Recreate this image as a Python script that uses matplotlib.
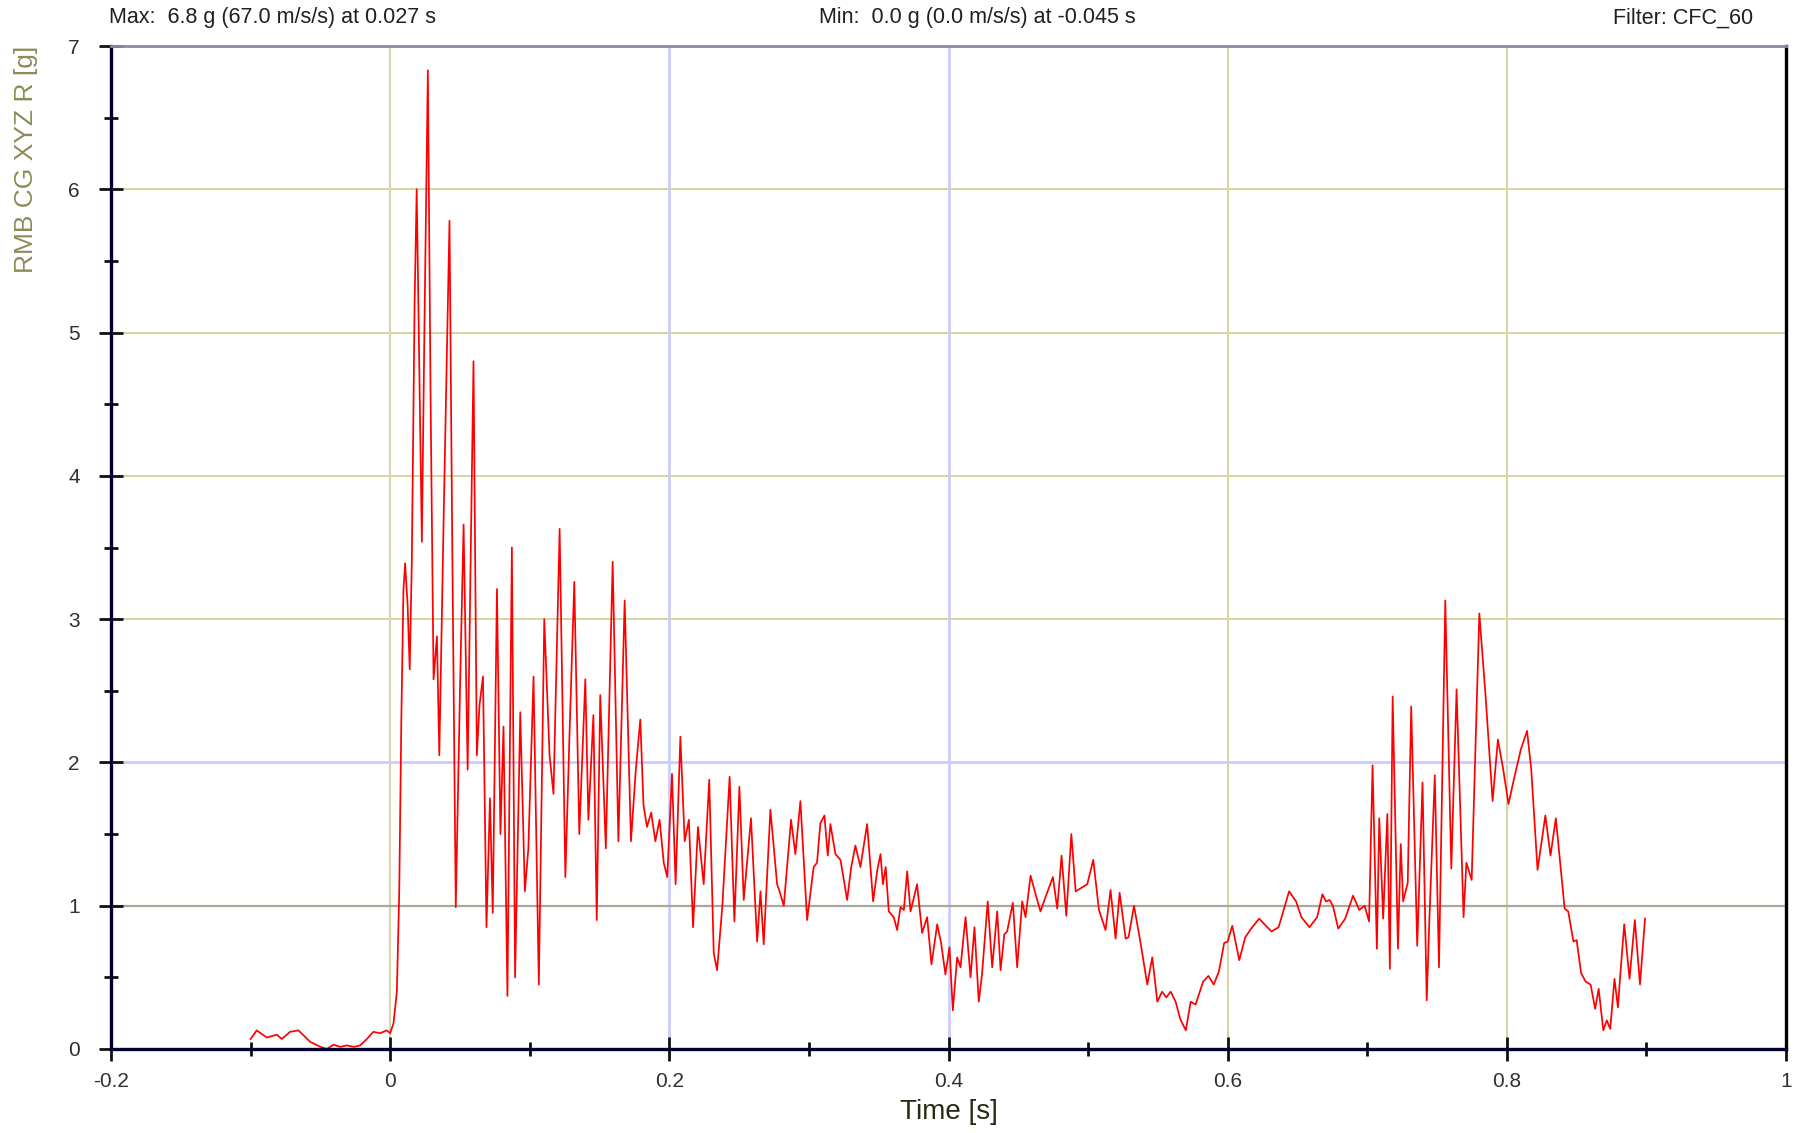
import matplotlib
matplotlib.use("Agg")
import matplotlib.pyplot as plt

plt.rcParams['font.family'] = ['Liberation Sans', 'DejaVu Sans']

# ---------------- data ----------------
time_s = [
    -0.1000, -0.0956, -0.0884, -0.0812, -0.0776, -0.0717, -0.0657, -0.0573, -0.0502, -0.0454,
    -0.0406, -0.0358, -0.0310, -0.0260, -0.0215, -0.0167, -0.0120, -0.0072, -0.0024, 0.0000,
    0.0024, 0.0048, 0.0065, 0.0080, 0.0095, 0.0107, 0.0125, 0.0140, 0.0155, 0.0175,
    0.0190, 0.0205, 0.0227, 0.0245, 0.0270, 0.0290, 0.0311, 0.0335, 0.0352, 0.0385,
    0.0425, 0.0445, 0.0470, 0.0500, 0.0526, 0.0555, 0.0597, 0.0621, 0.0640, 0.0665,
    0.0690, 0.0715, 0.0735, 0.0765, 0.0790, 0.0812, 0.0840, 0.0872, 0.0895, 0.0932,
    0.0965, 0.0990, 0.1027, 0.1065, 0.1104, 0.1142, 0.1170, 0.1214, 0.1255, 0.1285,
    0.1319, 0.1355, 0.1398, 0.1420, 0.1456, 0.1480, 0.1505, 0.1545, 0.1594, 0.1635,
    0.1680, 0.1725, 0.1760, 0.1792, 0.1815, 0.1840, 0.1870, 0.1900, 0.1930, 0.1960,
    0.1985, 0.2019, 0.2045, 0.2079, 0.2110, 0.2140, 0.2170, 0.2205, 0.2246, 0.2286,
    0.2318, 0.2342, 0.2380, 0.2432, 0.2466, 0.2502, 0.2533, 0.2585, 0.2629, 0.2653,
    0.2676, 0.2724, 0.2772, 0.2790, 0.2820, 0.2872, 0.2903, 0.2939, 0.2987, 0.3034,
    0.3058, 0.3082, 0.3111, 0.3135, 0.3154, 0.3190, 0.3226, 0.3274, 0.3303, 0.3333,
    0.3369, 0.3417, 0.3460, 0.3490, 0.3513, 0.3530, 0.3550, 0.3572, 0.3608, 0.3632,
    0.3656, 0.3680, 0.3704, 0.3728, 0.3775, 0.3811, 0.3847, 0.3878, 0.3919, 0.3947,
    0.3978, 0.4007, 0.4031, 0.4062, 0.4086, 0.4122, 0.4158, 0.4186, 0.4217, 0.4240,
    0.4281, 0.4313, 0.4349, 0.4373, 0.4400, 0.4420, 0.4461, 0.4492, 0.4528, 0.4552,
    0.4588, 0.4624, 0.4659, 0.4695, 0.4748, 0.4779, 0.4810, 0.4844, 0.4880, 0.4911,
    0.4994, 0.5037, 0.5078, 0.5125, 0.5161, 0.5197, 0.5226, 0.5269, 0.5290, 0.5329,
    0.5376, 0.5424, 0.5460, 0.5496, 0.5530, 0.5560, 0.5592, 0.5627, 0.5660, 0.5700,
    0.5735, 0.5770, 0.5824, 0.5862, 0.5900, 0.5937, 0.5975, 0.6000, 0.6033, 0.6083,
    0.6126, 0.6176, 0.6226, 0.6264, 0.6314, 0.6365, 0.6440, 0.6490, 0.6528, 0.6586,
    0.6641, 0.6679, 0.6704, 0.6730, 0.6754, 0.6792, 0.6842, 0.6898, 0.6943, 0.6981,
    0.7013, 0.7038, 0.7069, 0.7086, 0.7114, 0.7144, 0.7162, 0.7182, 0.7220, 0.7240,
    0.7257, 0.7290, 0.7315, 0.7358, 0.7396, 0.7426, 0.7446, 0.7484, 0.7514, 0.7559,
    0.7602, 0.7640, 0.7690, 0.7710, 0.7748, 0.7803, 0.7848, 0.7898, 0.7936, 0.7974,
    0.8012, 0.8050, 0.8100, 0.8145, 0.8175, 0.8220, 0.8276, 0.8313, 0.8351, 0.8414,
    0.8440, 0.8477, 0.8500, 0.8532, 0.8565, 0.8600, 0.8633, 0.8658, 0.8691, 0.8716,
    0.8741, 0.8771, 0.8796, 0.8809, 0.8841, 0.8879, 0.8917, 0.8954, 0.8990,
]
accel_g = [
    0.07, 0.13, 0.08, 0.10, 0.07, 0.12, 0.13, 0.05, 0.016, 0.00,
    0.03, 0.015, 0.025, 0.015, 0.025, 0.07, 0.12, 0.11, 0.13, 0.11,
    0.18, 0.40, 1.10, 2.30, 3.20, 3.39, 3.10, 2.65, 3.40, 5.20,
    6.00, 5.00, 3.54, 5.00, 6.83, 4.50, 2.58, 2.88, 2.05, 3.80,
    5.78, 3.50, 0.99, 2.50, 3.66, 1.95, 4.80, 2.05, 2.40, 2.60,
    0.85, 1.75, 0.95, 3.21, 1.50, 2.25, 0.37, 3.50, 0.50, 2.35,
    1.10, 1.40, 2.60, 0.45, 3.00, 2.05, 1.78, 3.63, 1.20, 2.20,
    3.26, 1.50, 2.58, 1.60, 2.33, 0.90, 2.47, 1.40, 3.40, 1.45,
    3.13, 1.45, 1.95, 2.30, 1.70, 1.55, 1.65, 1.45, 1.60, 1.30,
    1.20, 1.92, 1.15, 2.18, 1.45, 1.60, 0.85, 1.55, 1.15, 1.88,
    0.67, 0.55, 1.00, 1.90, 0.89, 1.83, 1.04, 1.61, 0.75, 1.10,
    0.73, 1.67, 1.15, 1.10, 1.00, 1.60, 1.36, 1.73, 0.90, 1.27,
    1.30, 1.575, 1.63, 1.35, 1.57, 1.36, 1.32, 1.04, 1.27, 1.42,
    1.27, 1.57, 1.03, 1.25, 1.36, 1.15, 1.27, 0.96, 0.92, 0.83,
    0.99, 0.97, 1.24, 0.96, 1.15, 0.81, 0.92, 0.59, 0.87, 0.74,
    0.52, 0.71, 0.27, 0.64, 0.57, 0.92, 0.50, 0.85, 0.33, 0.52,
    1.03, 0.57, 0.96, 0.55, 0.80, 0.82, 1.02, 0.57, 1.03, 0.92,
    1.21, 1.08, 0.96, 1.06, 1.20, 0.98, 1.35, 0.93, 1.50, 1.10,
    1.15, 1.32, 0.97, 0.83, 1.11, 0.77, 1.09, 0.77, 0.78, 1.00,
    0.74, 0.45, 0.64, 0.33, 0.40, 0.36, 0.40, 0.33, 0.21, 0.13,
    0.33, 0.31, 0.47, 0.51, 0.45, 0.54, 0.74, 0.75, 0.86, 0.62,
    0.78, 0.85, 0.91, 0.87, 0.82, 0.85, 1.10, 1.03, 0.92, 0.85,
    0.92, 1.08, 1.03, 1.04, 1.00, 0.84, 0.91, 1.07, 0.97, 1.00,
    0.89, 1.98, 0.70, 1.61, 0.91, 1.64, 0.56, 2.46, 0.70, 1.43,
    1.03, 1.16, 2.39, 0.72, 1.86, 0.34, 0.93, 1.91, 0.57, 3.13,
    1.26, 2.51, 0.92, 1.30, 1.18, 3.04, 2.46, 1.73, 2.16, 1.95,
    1.71, 1.88, 2.09, 2.22, 1.95, 1.25, 1.63, 1.35, 1.61, 0.98,
    0.96, 0.75, 0.76, 0.53, 0.47, 0.45, 0.28, 0.42, 0.13, 0.20,
    0.14, 0.49, 0.29, 0.47, 0.87, 0.49, 0.90, 0.45, 0.91,
]

x_ticks = [-0.2, 0.0, 0.2, 0.4, 0.6, 0.8, 1.0]
x_tick_labels = ['-0.2', '0', '0.2', '0.4', '0.6', '0.8', '1']
x_minor = [-0.1, 0.1, 0.3, 0.5, 0.7, 0.9]
y_ticks = [0, 1, 2, 3, 4, 5, 6, 7]
y_tick_labels = ['0', '1', '2', '3', '4', '5', '6', '7']
y_minor = [0.5, 1.5, 2.5, 3.5, 4.5, 5.5, 6.5]

grid_x_olive = [0.0, 0.6, 0.8]
grid_x_blue = [0.2, 0.4]
grid_y_olive = [3, 4, 5, 6]
grid_y_blue = [2]
grid_y_grey = [1]

header_max = "Max:  6.8 g (67.0 m/s/s) at 0.027 s"
header_min = "Min:  0.0 g (0.0 m/s/s) at -0.045 s"
header_filter = "Filter: CFC_60"
x_label = "Time [s]"
y_label = "RMB CG XYZ R [g]"

# ---------------- figure ----------------
W, H = 1801, 1133
fig = plt.figure(figsize=(W / 100, H / 100), dpi=100)
fig.patch.set_facecolor('white')
left_px, right_px, top_px, bottom_px = 111, 1786, 46, 1049
ax = fig.add_axes([left_px / W, 1 - bottom_px / H,
                   (right_px - left_px) / W, (bottom_px - top_px) / H])
ax.set_xlim(-0.2, 1.0)
ax.set_ylim(0, 7)

olive = '#d4d4a4'
blue = '#ccccff'
grey = '#a8a898'
for v in grid_x_olive:
    ax.axvline(v, color=olive, lw=1.4, zorder=1)
for v in grid_x_blue:
    ax.axvline(v, color=blue, lw=2.0, zorder=1)
for v in grid_y_olive:
    ax.axhline(v, color=olive, lw=1.4, zorder=1)
for v in grid_y_blue:
    ax.axhline(v, color=blue, lw=2.0, zorder=1)
for v in grid_y_grey:
    ax.axhline(v, color=grey, lw=1.6, zorder=1)

ax.plot(time_s, accel_g, color='#ff0000', lw=1.25, solid_joinstyle='round', zorder=3)

ax.set_xticks(x_ticks)
ax.set_xticklabels(x_tick_labels)
ax.set_xticks(x_minor, minor=True)
ax.set_yticks(y_ticks)
ax.set_yticklabels(y_tick_labels)
ax.set_yticks(y_minor, minor=True)

ax.tick_params(axis='both', which='major', direction='inout', length=17, width=2.0,
               color='#101010', labelsize=15, labelcolor='#303030')
ax.tick_params(axis='both', which='minor', direction='inout', length=10, width=2.0,
               color='#101010')
ax.tick_params(axis='x', which='major', pad=8)
ax.tick_params(axis='y', which='major', pad=14)

for side in ['left', 'bottom']:
    ax.spines[side].set_color('#000030')
    ax.spines[side].set_linewidth(2.4)
ax.spines['right'].set_color('#000000')
ax.spines['right'].set_linewidth(2.4)
ax.spines['top'].set_color('#8a8aa0')
ax.spines['top'].set_linewidth(2.0)
for s in ax.spines.values():
    s.set_zorder(5)

fig.text(109 / W, 1 - 18 / H, header_max, ha='left', va='center', fontsize=15.5, color='#202020')
fig.text(819 / W, 1 - 18 / H, header_min, ha='left', va='center', fontsize=15.5, color='#202020')
fig.text(1753 / W, 1 - 18 / H, header_filter, ha='right', va='center', fontsize=15.5, color='#202020')

fig.text(949 / W, 1 - 1112 / H, x_label, ha='center', va='center', fontsize=20, color='#2a2a14')
fig.text(26 / W, 1 - 46 / H, y_label, ha='center', va='top', rotation=90, fontsize=19,
         color='#8c8c5a')

fig.savefig('out.png', dpi=100, facecolor='white')
